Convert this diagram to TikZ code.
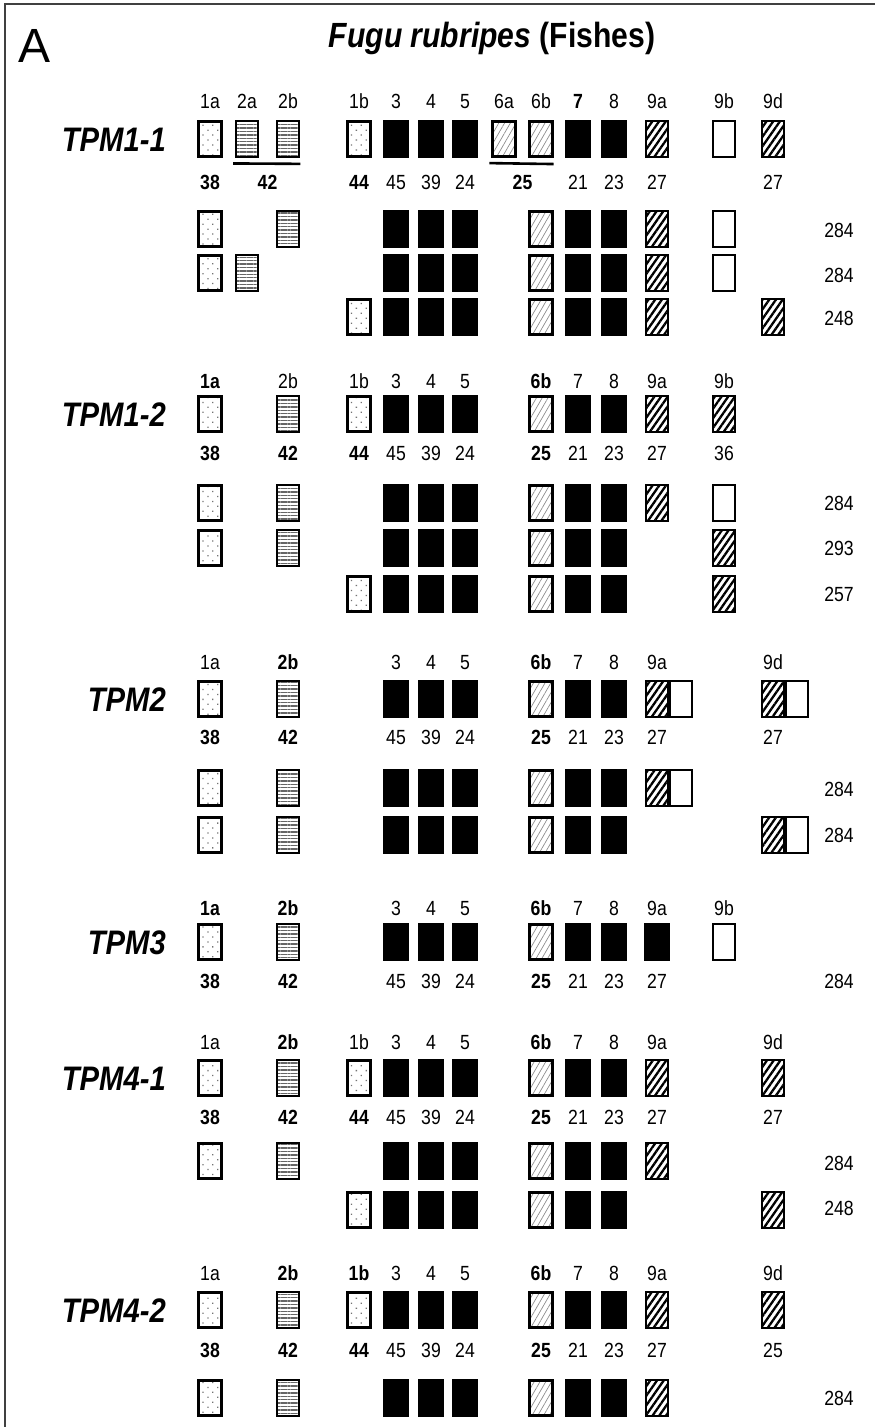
\documentclass[tikz,border=0pt]{standalone}
\usepackage{fontspec}
\setmainfont{Liberation Sans}
\newfontfamily\narrowsans[FakeStretch=0.86]{Liberation Sans}
\usetikzlibrary{patterns.meta,calc}

% column positions (x of box centres)
\newcommand{\setcol}[2]{\expandafter\def\csname colx#1\endcsname{#2}}
\setcol{1a}{210}\setcol{2a}{247}\setcol{2b}{288}\setcol{2ab}{267.5}
\setcol{1b}{359}\setcol{3}{396}\setcol{4}{431}\setcol{5}{465}
\setcol{6a}{504}\setcol{6b}{541}\setcol{6ab}{522.5}
\setcol{7}{578}\setcol{8}{614}\setcol{9a}{657}\setcol{9aw}{681}
\setcol{9b}{724}\setcol{9d}{773}\setcol{9dw}{797}
\setcol{len}{839}

\tikzset{
  box/.style={minimum width=22.5pt, minimum height=35.5pt, inner sep=0pt,
    line width=2.6pt, draw=black},
  dotbox/.style={box, pattern={Dots[distance=7pt, angle=45, radius=0.9pt]},
    pattern color=black!55},
  stripebox/.style={box, line width=2.2pt,
    pattern={Lines[angle=0, distance=3.4pt, line width=1.4pt]},
    pattern color=black!60},
  blackbox/.style={box, fill=black},
  lighthatch/.style={box, pattern={Lines[angle=60, distance=5pt, line width=0.7pt]},
    pattern color=black!45},
  heavyhatch/.style={box, line width=1.6pt,
    pattern={Lines[angle=55, distance=5.5pt, line width=2.3pt]}, pattern color=black},
  whitebox/.style={box, line width=1.6pt, fill=white},
  lbl/.style={inner sep=0pt, text height=15pt, text depth=0pt,
    font=\narrowsans\fontsize{20.5}{22}\selectfont},
  lblb/.style={lbl, font=\narrowsans\fontsize{20.5}{22}\selectfont\bfseries},
  side/.style={lbl},
  rowname/.style={inner sep=0pt, anchor=east, text height=24.5pt, text depth=0pt,
    font=\narrowsans\fontsize{34}{36}\selectfont\bfseries\itshape},
  underline/.style={line width=2.6pt},
  frame/.style={line width=2pt, draw=black!75}
}

% a row of boxes: id, y, list of style/column
\newcommand{\boxrow}[3]{%
  \foreach \s/\c in {#3}{%
    \edef\xx{\csname colx\c\endcsname}%
    \node[\s] (#1-\c) at (\xx,#2) {};}}
% a row of texts: id, y, list of style/column/text
\newcommand{\textrow}[3]{%
  \foreach \s/\c/\t in {#3}{%
    \edef\xx{\csname colx\c\endcsname}%
    \node[\s] (#1-\c) at (\xx,#2) {\t};}}

\begin{document}
\begin{tikzpicture}[x=1pt, y=-1pt]
\useasboundingbox (0,0) rectangle (875,1427);

% outer frame
\coordinate (fb) at (5,1427);
\coordinate (fc) at (5,4);
\coordinate (fr) at (875,4);
\draw[frame] (fb) -- (fc) -- (fr);

\node[inner sep=0pt, font=\fontsize{48}{50}\selectfont] (panel) at (35,46) {A};
\node[inner sep=0pt, font=\narrowsans\fontsize{35}{37}\selectfont\bfseries] (title) at (492,38)
  {\textit{Fugu rubripes} (Fishes)};

% ---------------- TPM1-1 ----------------
\node[rowname] (n1) at (166,139) {TPM1-1};
\textrow{g1h}{101}{lbl/1a/1a, lbl/2a/2a, lbl/2b/2b, lbl/1b/1b, lbl/3/3, lbl/4/4, lbl/5/5,
  lbl/6a/6a, lbl/6b/6b, lblb/7/7, lbl/8/8, lbl/9a/9a, lbl/9b/9b, lbl/9d/9d}
\boxrow{g1}{139}{dotbox/1a, stripebox/2a, stripebox/2b, dotbox/1b, blackbox/3, blackbox/4,
  blackbox/5, lighthatch/6a, lighthatch/6b, blackbox/7, blackbox/8, heavyhatch/9a,
  whitebox/9b, heavyhatch/9d}
\draw[underline] ($(g1-2a.south west)+(-2,6)$) -- ($(g1-2b.south east)+(0,6)$);
\draw[underline] ($(g1-6a.south west)+(-3,6)$) -- ($(g1-6b.south east)+(0,6)$);
\textrow{g1n}{182}{lblb/1a/38, lblb/2ab/42, lblb/1b/44, lbl/3/45, lbl/4/39, lbl/5/24,
  lblb/6ab/25, lbl/7/21, lbl/8/23, lbl/9a/27, lbl/9d/27}
\boxrow{g1s1}{229}{dotbox/1a, stripebox/2b, blackbox/3, blackbox/4, blackbox/5,
  lighthatch/6b, blackbox/7, blackbox/8, heavyhatch/9a, whitebox/9b}
\textrow{g1s1}{230}{side/len/284}
\boxrow{g1s2}{273}{dotbox/1a, stripebox/2a, blackbox/3, blackbox/4, blackbox/5,
  lighthatch/6b, blackbox/7, blackbox/8, heavyhatch/9a, whitebox/9b}
\textrow{g1s2}{275}{side/len/284}
\boxrow{g1s3}{317}{dotbox/1b, blackbox/3, blackbox/4, blackbox/5,
  lighthatch/6b, blackbox/7, blackbox/8, heavyhatch/9a, heavyhatch/9d}
\textrow{g1s3}{318}{side/len/248}

% ---------------- TPM1-2 ----------------
\node[rowname] (n2) at (166,414) {TPM1-2};
\textrow{g2h}{381}{lblb/1a/1a, lbl/2b/2b, lbl/1b/1b, lbl/3/3, lbl/4/4, lbl/5/5,
  lblb/6b/6b, lbl/7/7, lbl/8/8, lbl/9a/9a, lbl/9b/9b}
\boxrow{g2}{414}{dotbox/1a, stripebox/2b, dotbox/1b, blackbox/3, blackbox/4, blackbox/5,
  lighthatch/6b, blackbox/7, blackbox/8, heavyhatch/9a, heavyhatch/9b}
\textrow{g2n}{453}{lblb/1a/38, lblb/2b/42, lblb/1b/44, lbl/3/45, lbl/4/39, lbl/5/24,
  lblb/6b/25, lbl/7/21, lbl/8/23, lbl/9a/27, lbl/9b/36}
\boxrow{g2s1}{503}{dotbox/1a, stripebox/2b, blackbox/3, blackbox/4, blackbox/5,
  lighthatch/6b, blackbox/7, blackbox/8, heavyhatch/9a, whitebox/9b}
\textrow{g2s1}{503}{side/len/284}
\boxrow{g2s2}{548}{dotbox/1a, stripebox/2b, blackbox/3, blackbox/4, blackbox/5,
  lighthatch/6b, blackbox/7, blackbox/8, heavyhatch/9b}
\textrow{g2s2}{548}{side/len/293}
\boxrow{g2s3}{594}{dotbox/1b, blackbox/3, blackbox/4, blackbox/5,
  lighthatch/6b, blackbox/7, blackbox/8, heavyhatch/9b}
\textrow{g2s3}{594}{side/len/257}

% ---------------- TPM2 ----------------
\node[rowname] (n3) at (166,699) {TPM2};
\textrow{g3h}{662}{lbl/1a/1a, lblb/2b/2b, lbl/3/3, lbl/4/4, lbl/5/5,
  lblb/6b/6b, lbl/7/7, lbl/8/8, lbl/9a/9a, lbl/9d/9d}
\boxrow{g3}{699}{dotbox/1a, stripebox/2b, blackbox/3, blackbox/4, blackbox/5,
  lighthatch/6b, blackbox/7, blackbox/8, heavyhatch/9a, whitebox/9aw,
  heavyhatch/9d, whitebox/9dw}
\textrow{g3n}{737}{lblb/1a/38, lblb/2b/42, lbl/3/45, lbl/4/39, lbl/5/24,
  lblb/6b/25, lbl/7/21, lbl/8/23, lbl/9a/27, lbl/9d/27}
\boxrow{g3s1}{788}{dotbox/1a, stripebox/2b, blackbox/3, blackbox/4, blackbox/5,
  lighthatch/6b, blackbox/7, blackbox/8, heavyhatch/9a, whitebox/9aw}
\textrow{g3s1}{789}{side/len/284}
\boxrow{g3s2}{835}{dotbox/1a, stripebox/2b, blackbox/3, blackbox/4, blackbox/5,
  lighthatch/6b, blackbox/7, blackbox/8, heavyhatch/9d, whitebox/9dw}
\textrow{g3s2}{835}{side/len/284}

% ---------------- TPM3 ----------------
\node[rowname] (n4) at (166,942) {TPM3};
\textrow{g4h}{908}{lblb/1a/1a, lblb/2b/2b, lbl/3/3, lbl/4/4, lbl/5/5,
  lblb/6b/6b, lbl/7/7, lbl/8/8, lbl/9a/9a, lbl/9b/9b}
\boxrow{g4}{942}{dotbox/1a, stripebox/2b, blackbox/3, blackbox/4, blackbox/5,
  lighthatch/6b, blackbox/7, blackbox/8, blackbox/9a, whitebox/9b}
\textrow{g4n}{981}{lblb/1a/38, lblb/2b/42, lbl/3/45, lbl/4/39, lbl/5/24,
  lblb/6b/25, lbl/7/21, lbl/8/23, lbl/9a/27, side/len/284}

% ---------------- TPM4-1 ----------------
\node[rowname] (n5) at (166,1078) {TPM4-1};
\textrow{g5h}{1042}{lbl/1a/1a, lblb/2b/2b, lbl/1b/1b, lbl/3/3, lbl/4/4, lbl/5/5,
  lblb/6b/6b, lbl/7/7, lbl/8/8, lbl/9a/9a, lbl/9d/9d}
\boxrow{g5}{1078}{dotbox/1a, stripebox/2b, dotbox/1b, blackbox/3, blackbox/4, blackbox/5,
  lighthatch/6b, blackbox/7, blackbox/8, heavyhatch/9a, heavyhatch/9d}
\textrow{g5n}{1117}{lblb/1a/38, lblb/2b/42, lblb/1b/44, lbl/3/45, lbl/4/39, lbl/5/24,
  lblb/6b/25, lbl/7/21, lbl/8/23, lbl/9a/27, lbl/9d/27}
\boxrow{g5s1}{1161}{dotbox/1a, stripebox/2b, blackbox/3, blackbox/4, blackbox/5,
  lighthatch/6b, blackbox/7, blackbox/8, heavyhatch/9a}
\textrow{g5s1}{1163}{side/len/284}
\boxrow{g5s2}{1210}{dotbox/1b, blackbox/3, blackbox/4, blackbox/5,
  lighthatch/6b, blackbox/7, blackbox/8, heavyhatch/9d}
\textrow{g5s2}{1208}{side/len/248}

% ---------------- TPM4-2 ----------------
\node[rowname] (n6) at (166,1310) {TPM4-2};
\textrow{g6h}{1273}{lbl/1a/1a, lblb/2b/2b, lblb/1b/1b, lbl/3/3, lbl/4/4, lbl/5/5,
  lblb/6b/6b, lbl/7/7, lbl/8/8, lbl/9a/9a, lbl/9d/9d}
\boxrow{g6}{1310}{dotbox/1a, stripebox/2b, dotbox/1b, blackbox/3, blackbox/4, blackbox/5,
  lighthatch/6b, blackbox/7, blackbox/8, heavyhatch/9a, heavyhatch/9d}
\textrow{g6n}{1350}{lblb/1a/38, lblb/2b/42, lblb/1b/44, lbl/3/45, lbl/4/39, lbl/5/24,
  lblb/6b/25, lbl/7/21, lbl/8/23, lbl/9a/27, lbl/9d/25}
\boxrow{g6s1}{1398}{dotbox/1a, stripebox/2b, blackbox/3, blackbox/4, blackbox/5,
  lighthatch/6b, blackbox/7, blackbox/8, heavyhatch/9a}
\textrow{g6s1}{1398}{side/len/284}
\end{tikzpicture}
\end{document}
